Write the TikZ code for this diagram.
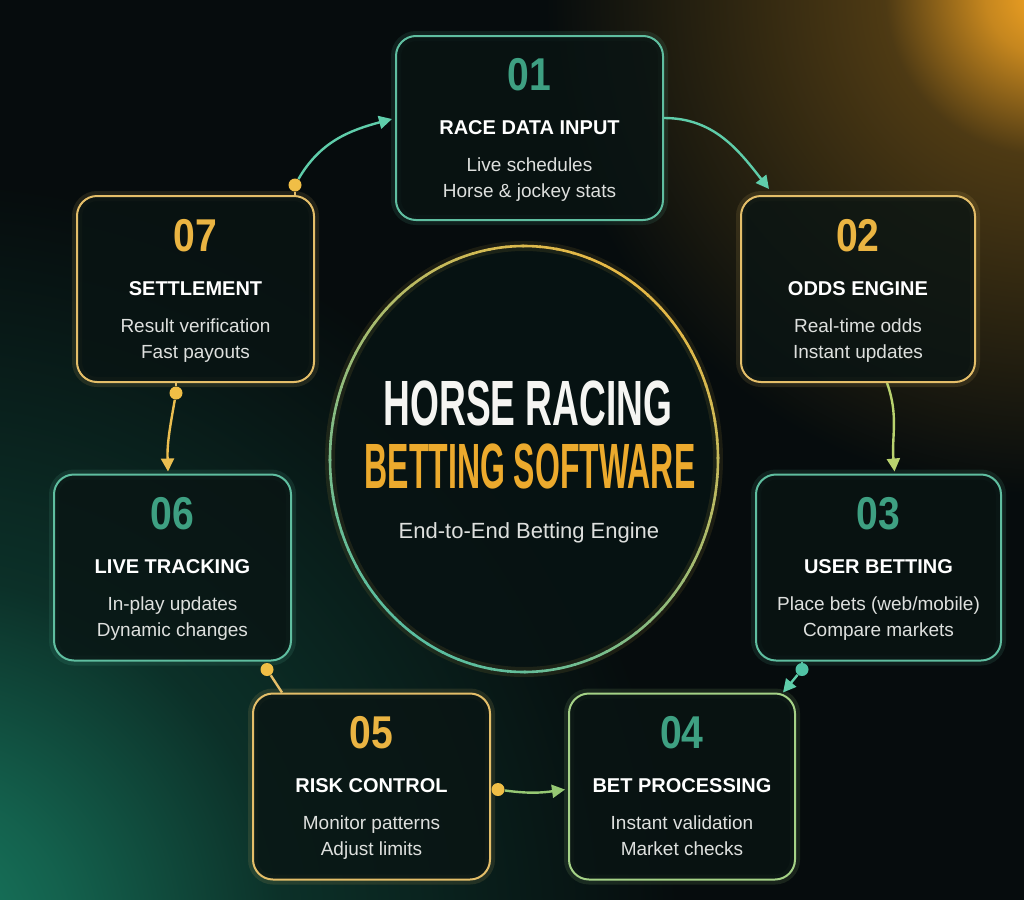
\documentclass[tikz,border=0pt]{standalone}
\usepackage{fontspec}
\usepackage{graphicx}
\setmainfont{Liberation Sans}
\newfontfamily\numfont[FakeStretch=0.85]{Liberation Sans}
\usetikzlibrary{calc,arrows.meta,positioning,fadings}

\definecolor{bgc}{RGB}{6,12,13}
\definecolor{glowteal}{RGB}{24,125,98}
\definecolor{glowor}{RGB}{245,165,35}
\definecolor{boxfill}{RGB}{9,20,19}
\definecolor{tealline}{RGB}{95,190,160}
\definecolor{goldline}{RGB}{228,190,105}
\definecolor{limeline}{RGB}{165,210,135}
\definecolor{numteal}{RGB}{62,160,130}
\definecolor{numgold}{RGB}{234,180,66}
\definecolor{barteal}{RGB}{90,225,175}
\definecolor{bargold}{RGB}{255,200,80}
\definecolor{bodygray}{RGB}{222,224,222}
\definecolor{titlewhite}{RGB}{245,245,242}
\definecolor{titlegold}{RGB}{236,170,45}
\definecolor{ringgold}{RGB}{230,185,70}
\definecolor{ringteal}{RGB}{90,190,160}
\definecolor{ringfill}{RGB}{7,19,19}
\definecolor{arrteal}{RGB}{95,205,170}
\definecolor{arrlime}{RGB}{185,210,110}
\definecolor{arrgreen}{RGB}{150,200,115}
\definecolor{arrgold}{RGB}{235,190,80}
\definecolor{dotgold}{RGB}{240,190,70}
\definecolor{dotteal}{RGB}{80,195,165}

\pgfdeclareradialshading{tealglow}{\pgfpoint{0bp}{0bp}}{color(0bp)=(glowteal); color(5bp)=(glowteal!75!bgc); color(12bp)=(glowteal!32!bgc); color(25bp)=(bgc); color(50bp)=(bgc)}
\pgfdeclareradialshading{orangeglow}{\pgfpoint{0bp}{0bp}}{color(0bp)=(glowor); color(3bp)=(glowor!80!bgc); color(8bp)=(glowor!30!bgc); color(25bp)=(bgc); color(50bp)=(bgc)}
\tikzfading[name=barfade, left color=transparent!100, middle color=transparent!0, right color=transparent!100]

\tikzset{
  box/.style={rectangle, rounded corners=10pt, line width=1pt, fill=boxfill, fill opacity=0.8, minimum height=93pt},
  tealbox/.style={box, draw=tealline, preaction={draw=tealline, line width=5pt, draw opacity=0.12}},
  goldbox/.style={box, draw=goldline, preaction={draw=goldline, line width=5pt, draw opacity=0.12}},
  limebox/.style={box, draw=limeline, preaction={draw=limeline, line width=5pt, draw opacity=0.12}},
  tnum/.style={anchor=base, inner sep=0pt, font=\numfont\bfseries\fontsize{23}{23}\selectfont},
  ttitle/.style={anchor=base, inner sep=0pt, text=white, font=\bfseries\fontsize{10}{12}\selectfont},
  tbody/.style={anchor=base, inner sep=0pt, text=bodygray, font=\fontsize{9.5}{12}\selectfont},
  tealbar/.style={fill=barteal, path fading=barfade},
  goldbar/.style={fill=bargold, path fading=barfade},
  bigtitle/.style={anchor=base, inner sep=0pt, font=\bfseries\fontsize{32}{32}\selectfont},
  subtitle/.style={anchor=base, inner sep=0pt, text=bodygray, font=\fontsize{11}{13}\selectfont},
  conn/.style={line width=1.2pt, -{Triangle[length=6.5pt,width=6.5pt]}},
  link/.style={line width=1.2pt},
  golddot/.style={circle, fill=dotgold, inner sep=0pt, minimum size=6.5pt},
  tealdot/.style={circle, fill=dotteal, inner sep=0pt, minimum size=6.5pt}
}

\begin{document}
\begin{tikzpicture}[x=0.5pt, y=0.5pt]
\useasboundingbox (0,0) rectangle (1024,-900);
\fill[bgc] (0,0) rectangle (1024,-900);
\begin{scope}
\clip (0,0) rectangle (1024,-900);
\shade[shading=tealglow] (-80,-940) circle (760);
\shade[shading=orangeglow] (1045,5) circle (500);
\end{scope}

% centre ring
\coordinate (ctr) at (524,-459);
\fill[ringfill, fill opacity=0.9] (ctr) ellipse [x radius=194, y radius=213];
\draw[ringgold, line width=5pt, draw opacity=0.1] (ctr) ellipse [x radius=194, y radius=213];
\foreach \a in {0,5,...,355}{
  \pgfmathsetmacro{\m}{50+50*cos(\a-55)}
  \draw[ringgold!\m!ringteal, line width=1.3pt] (ctr) ++(\a:194 and 213) arc[start angle=\a, end angle=\a+5.5, x radius=194, y radius=213];
}
\node[bigtitle, text=titlewhite] (title1) at (528,-425) {\scalebox{0.58}[1]{HORSE RACING}};
\node[bigtitle, text=titlegold] (title2) at (530,-488) {\scalebox{0.5}[1]{BETTING SOFTWARE}};
\node[subtitle] (sub) at (529,-538) {End-to-End Betting Engine};
\fill[goldbar] (425,-576.5) rectangle (635,-579.5);

% boxes
\node[tealbox, minimum width=133.5pt, minimum height=92pt] (b1) at (529.5,-128) {};
\node[goldbox, minimum width=117pt] (b2) at (858,-289) {};
\node[tealbox, minimum width=122.5pt] (b3) at (878.5,-567.5) {};
\node[limebox, minimum width=113pt] (b4) at (682,-786.5) {};
\node[goldbox, minimum width=118.5pt] (b5) at (371.5,-786.5) {};
\node[tealbox, minimum width=118.5pt] (b6) at (172.5,-567.5) {};
\node[goldbox, minimum width=118.5pt] (b7) at (195.5,-289) {};

% 01
\node[tnum, text=numteal] (n1) at ($(b1)+(0,38)$) {01};
\fill[tealbar] ($(b1)+(-52,24.5)$) rectangle ($(b1)+(52,27)$);
\node[ttitle] (h1) at ($(b1)+(0,-6)$) {RACE DATA INPUT};
\node[tbody] (s1) at ($(b1)+(0,-43)$) {Live schedules};
\node[tbody] (r1) at ($(b1)+(0,-69)$) {Horse \& jockey stats};
% 02
\node[tnum, text=numgold] (n2) at ($(b2)+(0,38)$) {02};
\fill[goldbar] ($(b2)+(-52,24.5)$) rectangle ($(b2)+(52,27)$);
\node[ttitle] (h2) at ($(b2)+(0,-6)$) {ODDS ENGINE};
\node[tbody] (s2) at ($(b2)+(0,-43)$) {Real-time odds};
\node[tbody] (r2) at ($(b2)+(0,-69)$) {Instant updates};
% 03
\node[tnum, text=numteal] (n3) at ($(b3)+(0,38)$) {03};
\fill[tealbar] ($(b3)+(-52,24.5)$) rectangle ($(b3)+(52,27)$);
\node[ttitle] (h3) at ($(b3)+(0,-6)$) {USER BETTING};
\node[tbody] (s3) at ($(b3)+(0,-43)$) {Place bets (web/mobile)};
\node[tbody] (r3) at ($(b3)+(0,-69)$) {Compare markets};
% 04
\node[tnum, text=numteal] (n4) at ($(b4)+(0,38)$) {04};
\fill[tealbar] ($(b4)+(-52,24.5)$) rectangle ($(b4)+(52,27)$);
\node[ttitle] (h4) at ($(b4)+(0,-6)$) {BET PROCESSING};
\node[tbody] (s4) at ($(b4)+(0,-43)$) {Instant validation};
\node[tbody] (r4) at ($(b4)+(0,-69)$) {Market checks};
% 05
\node[tnum, text=numgold] (n5) at ($(b5)+(0,38)$) {05};
\fill[goldbar] ($(b5)+(-52,24.5)$) rectangle ($(b5)+(52,27)$);
\node[ttitle] (h5) at ($(b5)+(0,-6)$) {RISK CONTROL};
\node[tbody] (s5) at ($(b5)+(0,-43)$) {Monitor patterns};
\node[tbody] (r5) at ($(b5)+(0,-69)$) {Adjust limits};
% 06
\node[tnum, text=numteal] (n6) at ($(b6)+(0,38)$) {06};
\fill[tealbar] ($(b6)+(-52,24.5)$) rectangle ($(b6)+(52,27)$);
\node[ttitle] (h6) at ($(b6)+(0,-6)$) {LIVE TRACKING};
\node[tbody] (s6) at ($(b6)+(0,-43)$) {In-play updates};
\node[tbody] (r6) at ($(b6)+(0,-69)$) {Dynamic changes};
% 07
\node[tnum, text=numgold] (n7) at ($(b7)+(0,38)$) {07};
\fill[goldbar] ($(b7)+(-52,24.5)$) rectangle ($(b7)+(52,27)$);
\node[ttitle] (h7) at ($(b7)+(0,-6)$) {SETTLEMENT};
\node[tbody] (s7) at ($(b7)+(0,-43)$) {Result verification};
\node[tbody] (r7) at ($(b7)+(0,-69)$) {Fast payouts};

% connectors
\node[golddot] (p7) at ($(b7.north east)+(-20,10)$) {};
\draw[goldline, link] (p7) -- (p7 |- b7.north);
\draw[conn, draw=arrteal] (p7) to[out=60, in=195] ($(b1.west)+(-3,9)$);

\draw[conn, draw=arrteal] ($(b1.east)+(0,10)$) to[out=0, in=128] ($(b2.north west)+(29,6)$);

\draw[conn, draw=arrlime] ($(b2.south)+(29,0)$) to[out=-70, in=95] ($(b3.north)+(16,2)$);

\node[tealdot] (p3) at ($(b3.south west)+(47,-8)$) {};
\draw[tealline, link] (p3) -- (p3 |- b3.south);
\draw[conn, draw=arrteal] (p3) -- ($(b4.north east)+(-13,0)$);

\node[golddot] (p5) at ($(b5.east)+(7,-3)$) {};
\draw[conn, draw=arrgreen] (p5) to[out=-8, in=188] ($(b4.west)+(-3,-3)$);

\node[golddot] (p6) at ($(b6.south east)+(-25,-8)$) {};
\draw[goldline, link] (p6) -- ($(b5.north west)+(30,0)$);

\node[golddot] (q7) at ($(b7.south)+(-19.5,-10)$) {};
\draw[goldline, link] (q7) -- (q7 |- b7.south);
\draw[conn, draw=arrgold] (q7) to[out=-100, in=92] ($(b6.north)+(-4.5,2)$);
\end{tikzpicture}
\end{document}
